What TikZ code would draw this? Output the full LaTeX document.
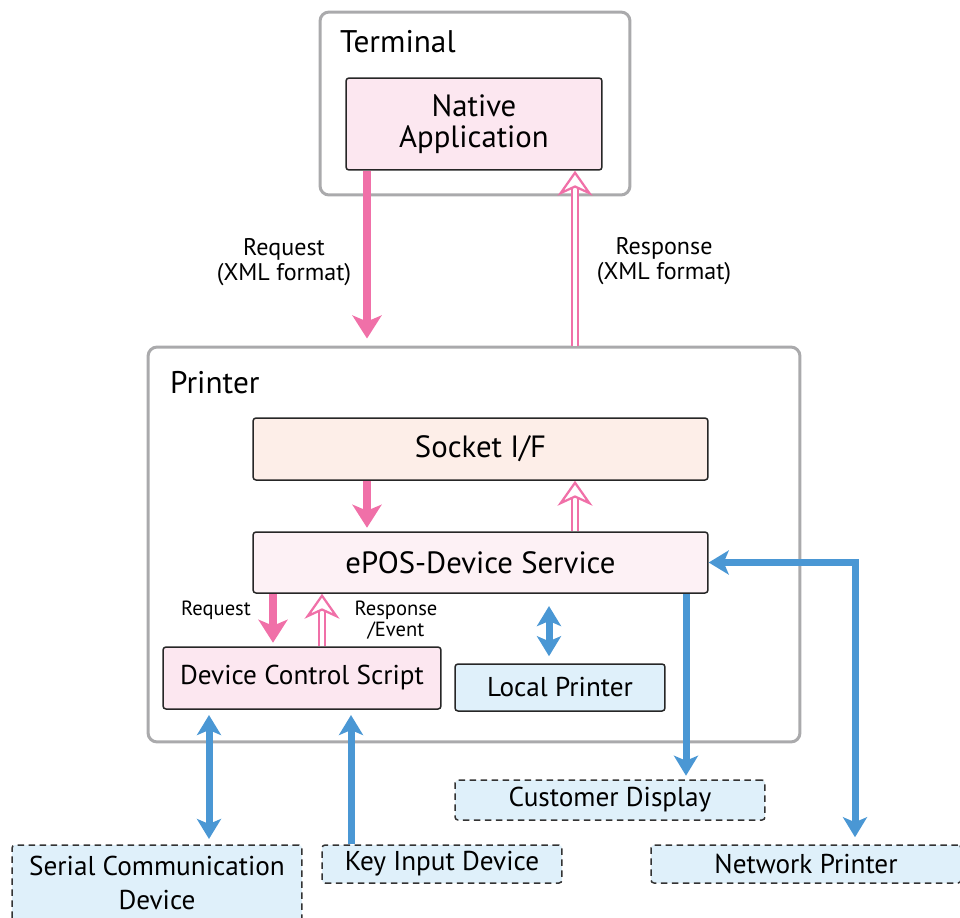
\documentclass[tikz,border=0pt]{standalone}
\usepackage{fontspec}
\setmainfont{PT Sans}
\usetikzlibrary{arrows.meta,calc}
\definecolor{pinkarrow}{RGB}{240,112,168}
\definecolor{bluearrow}{RGB}{74,151,212}
\definecolor{framegray}{RGB}{170,170,172}
\definecolor{pinkfill}{RGB}{252,231,240}
\definecolor{peachfill}{RGB}{253,238,232}
\definecolor{paleFill}{RGB}{253,241,245}
\definecolor{lightblue}{RGB}{223,240,250}

\begin{document}
\begin{tikzpicture}[x=0.02cm,y=-0.02cm,
  frame/.style={draw=framegray, line width=0.06cm, rounded corners=0.18cm},
  block/.style={draw=black!85, line width=0.03cm, rounded corners=0.06cm, align=center, inner sep=0pt, font=\fontsize{17.5}{17.5}\selectfont},
  smallblock/.style={block, font=\fontsize{15.5}{16}\selectfont},
  device/.style={draw=black!80, line width=0.03cm, dash pattern=on 0.13cm off 0.09cm, fill=lightblue, rounded corners=0.06cm, align=center, inner sep=0pt, font=\fontsize{15.5}{19.3}\selectfont},
  lbl/.style={align=center, font=\fontsize{13.7}{14.2}\selectfont},
  smalllbl/.style={align=center, font=\fontsize{11.7}{12}\selectfont},
  req/.style={draw=pinkarrow, line width=0.16cm, -{Stealth[width=0.58cm,length=0.46cm,inset=0.12cm]}},
  resp/.style={draw=pinkarrow, line width=0.045cm, double=white, double distance=0.08cm, -{Stealth[open,width=0.7cm,length=0.5cm,inset=0.16cm]}},
  devarrow/.style={draw=bluearrow, line width=0.14cm, -{Stealth[width=0.48cm,length=0.4cm,inset=0.1cm]}},
  devboth/.style={draw=bluearrow, line width=0.14cm, {Stealth[width=0.48cm,length=0.4cm,inset=0.1cm]}-{Stealth[width=0.48cm,length=0.4cm,inset=0.1cm]}}
]
\useasboundingbox (0,0) rectangle (960,917);

% outer frames
\node[frame, minimum width=6.2cm, minimum height=3.66cm] (term) at (475,103.5) {};
\node[anchor=west, font=\fontsize{17.8}{18}\selectfont] (termlbl) at (334,42) {Terminal};
\node[frame, minimum width=13.04cm, minimum height=7.9cm] (printer) at (474,544.5) {};
\node[anchor=west, font=\fontsize{17.8}{18}\selectfont] (printerlbl) at (164,383) {Printer};

% blocks
\node[block, fill=pinkfill, minimum width=5.12cm, minimum height=1.84cm] (native) at (474,124) {Native\\Application};
\node[block, fill=peachfill, minimum width=9.1cm, minimum height=1.24cm] (socket) at (480.5,449) {Socket I/F};
\node[block, fill=paleFill, minimum width=9.1cm, minimum height=1.22cm] (epos) at (480.5,562.5) {ePOS-Device Service};
\node[smallblock, fill=pinkfill, minimum width=5.56cm, minimum height=1.24cm] (dcs) at (302,678) {Device Control Script};
\node[smallblock, fill=lightblue, minimum width=4.2cm, minimum height=0.94cm] (local) at (560,687.5) {Local Printer};

% devices
\node[device, minimum width=6.2cm, minimum height=0.8cm] (cust) at (610,800) {\raisebox{-2pt}{Customer Display}};
\node[device, minimum width=5.8cm, minimum height=1.52cm] (serial) at (157,883) {Serial Communication\\Device};
\node[device, minimum width=4.8cm, minimum height=0.76cm] (key) at (442,864) {\raisebox{-2pt}{Key Input Device}};
\node[device, minimum width=6.2cm, minimum height=0.76cm] (net) at (806,864) {\raisebox{-1pt}{Network Printer}};

% arrow positions
\coordinate (reqx) at (367,0);
\coordinate (respx) at (575,0);
\coordinate (req2x) at (273,0);
\coordinate (resp2x) at (322,0);
\coordinate (locx) at (549,0);
\coordinate (custx) at (686,0);
\coordinate (netx) at (855,0);
\coordinate (serx) at (209,0);
\coordinate (keyx) at (351,0);

\draw[req, shorten >=4] (native.south -| reqx) -- (printer.north -| reqx);
\draw[resp] (printer.north -| respx) -- (native.south -| respx);
\draw[req, shorten >=2] (socket.south -| reqx) -- (epos.north -| reqx);
\draw[resp] (epos.north -| respx) -- (socket.south -| respx);
\draw[req, shorten >=2] (epos.south -| req2x) -- (dcs.north -| req2x);
\draw[resp] (dcs.north -| resp2x) -- (epos.south -| resp2x);
\draw[devboth, shorten <=7, shorten >=4] (epos.south -| locx) -- (local.north -| locx);
\draw[devarrow, shorten >=2] (epos.south -| custx) -- (cust.north -| custx);
\draw[devboth, shorten <=4] (net.north -| netx) |- (epos.east);
\draw[devboth, shorten <=3, shorten >=3] (dcs.south -| serx) -- (serial.north -| serx);
\draw[devarrow, shorten >=3] (key.north -| keyx) -- (dcs.south -| keyx);

% labels
\node[lbl] (reqlbl) at (284,262) {Request\\(XML format)};
\node[lbl] (resplbl) at (664,261) {Response\\(XML format)};
\node[smalllbl] (req2lbl) at (216,610) {Request};
\node[smalllbl] (resp2lbl) at (396,620) {Response\\/Event};
\end{tikzpicture}
\end{document}
